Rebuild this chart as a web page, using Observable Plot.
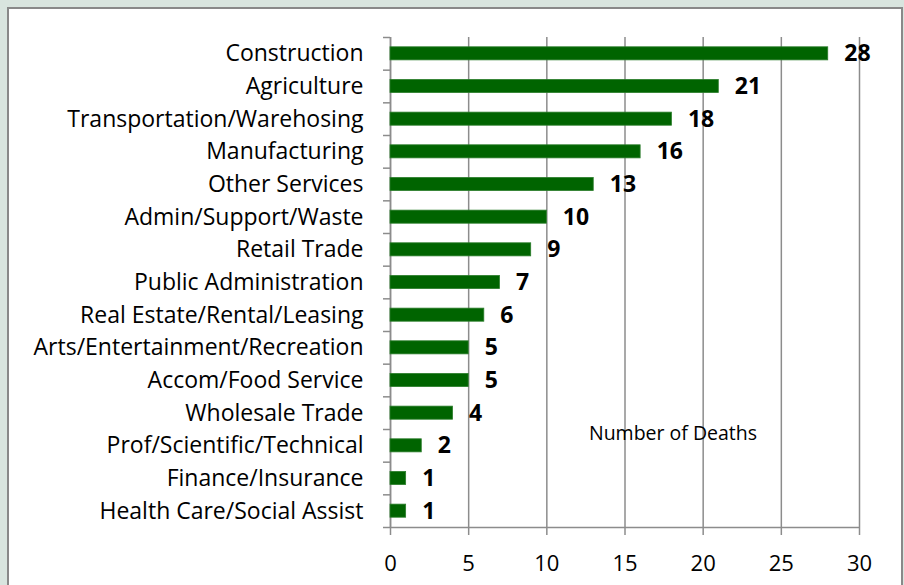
<!DOCTYPE html>
<html>
<head>
<meta charset="utf-8">
<script src="https://cdn.jsdelivr.net/npm/d3@7"></script>
<script src="https://cdn.jsdelivr.net/npm/@observablehq/plot@0.6"></script>
<style>
  html, body { margin: 0; padding: 0; }
  #page { position: relative; width: 904px; height: 585px; background: #d9e5df; overflow: hidden; }
  #box { position: absolute; left: 7px; top: 7px; width: 892px; height: 600px; background: #fff; border: 2px solid #898989; }
  #chart { position: absolute; left: 0; top: 0; }
</style>
</head>
<body>
<div id="page"><div id="box"></div><div id="chart"></div></div>
<script>
const categories = ["Construction","Agriculture","Transportation/Warehosing","Manufacturing","Other Services","Admin/Support/Waste","Retail Trade","Public Administration","Real Estate/Rental/Leasing","Arts/Entertainment/Recreation","Accom/Food Service","Wholesale Trade","Prof/Scientific/Technical","Finance/Insurance","Health Care/Social Assist"];
const deaths = [28,21,18,16,13,10,9,7,6,5,5,4,2,1,1];
const xTicks = [0,5,10,15,20,25,30];
const axisTitle = "Number of Deaths";

const data = categories.map((c, i) => ({category: c, value: deaths[i]}));
const grid = "#8c8c8c";
const half = (585 - 37 - 58) / categories.length / 2;

const chart = Plot.plot({
  width: 904,
  height: 585,
  marginLeft: 390,
  marginRight: 45,
  marginTop: 37,
  marginBottom: 58,
  style: {fontFamily: "'Open Sans', sans-serif", background: "transparent", color: "#000"},
  x: {domain: [0, 30], ticks: xTicks},
  y: {domain: categories, paddingInner: 0.6, paddingOuter: 0.3, round: false},
  marks: [
    Plot.gridX(xTicks, {stroke: grid, strokeOpacity: 1, strokeWidth: 1.5}),
    Plot.ruleX([0], {stroke: grid, strokeWidth: 1.5}),
    Plot.ruleY([categories[categories.length - 1]], {dy: half, stroke: grid, strokeWidth: 1.5}),
    Plot.barX(data, {x: "value", y: "category", fill: "#006400", stroke: "#2b7d2b", strokeWidth: 0.8}),
    Plot.text(data, {x: "value", y: "category", text: d => String(d.value), textAnchor: "start", dx: 16, fontWeight: "bold", fontSize: 23, fill: "#000"}),
    Plot.axisX({ticks: xTicks, tickSize: 8, tickPadding: 20, fontSize: 22, stroke: grid, strokeWidth: 1.5, fill: "#000", label: null}),
    Plot.axisY({tickSize: 0, tickPadding: 27, fontSize: 23, fill: "#000", label: null}),
    Plot.axisY({tickSize: 7, text: null, dy: -half, stroke: grid, strokeWidth: 1.5, label: null}),
    Plot.axisY({ticks: [categories[categories.length - 1]], tickSize: 7, text: null, dy: half, stroke: grid, strokeWidth: 1.5, label: null}),
    Plot.text([axisTitle], {frameAnchor: "bottom", dx: 48, dy: -88, fontSize: 19.5, fill: "#000"})
  ]
});
document.getElementById("chart").appendChild(chart);
</script>
</body>
</html>
